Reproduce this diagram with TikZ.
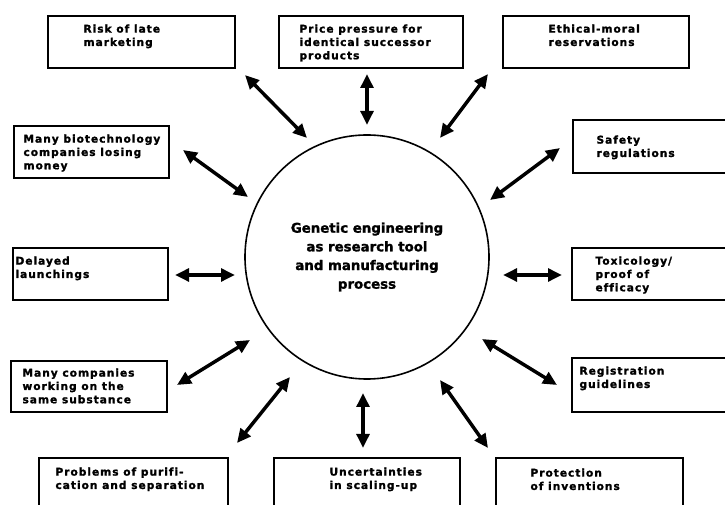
\documentclass[tikz,border=0pt]{standalone}
\usepackage{fontspec}
\setmainfont{DejaVu Sans}
\newfontfamily\heavy[LetterSpace=9, FakeBold=1.5, Ligatures=NoCommon]{DejaVu Sans}
\newfontfamily\hubfont[FakeBold=1.5]{DejaVu Sans}
\usetikzlibrary{arrows.meta}

\tikzset{every picture/.style={line width=0.75pt}}
\tikzset{
  issue/.style 2 args={draw, line width=1.2pt, rectangle, anchor=north west, inner sep=0pt, minimum width=#1, minimum height=#2},
  cue/.style={anchor=north west, inner sep=0pt, align=left, font=\heavy\bfseries\fontsize{8}{10}\selectfont},
  hub/.style={draw, circle, line width=1.2pt, minimum size=183pt, inner sep=0pt, align=center, font=\hubfont\bfseries\fontsize{10}{14}\selectfont},
  link/.style={line width=2.6pt, {Triangle[length=10.5pt,width=9.5pt]}-{Triangle[length=10.5pt,width=9.5pt]}}
}

\begin{document}
\begin{tikzpicture}[x=0.75pt,y=0.75pt,yscale=-1,xscale=1]
\useasboundingbox (0,0) rectangle (725,505);
\clip (0,0) rectangle (725,505);

%Shape: Circle
\node[hub] (core) at (367,257) {Genetic engineering\\as research tool\\and manufacturing\\process};

%Shape: Rectangle (top row)
\node[issue={140.25pt}{39pt}] (risk) at (47,15) {};
\node[issue={138pt}{39pt}] (price) at (278,15) {};
\node[issue={139.5pt}{39pt}] (ethics) at (502,15) {};
%Shape: Rectangle (left column)
\node[issue={116.25pt}{39pt}] (biotech) at (13,125) {};
\node[issue={116.25pt}{39pt}] (delay) at (12,247) {};
\node[issue={117pt}{38.25pt}] (rivals) at (10,360) {};
%Shape: Rectangle (right column)
\node[issue={126pt}{39.75pt}] (safety) at (572,119) {};
\node[issue={126.75pt}{39pt}] (toxic) at (571,247) {};
\node[issue={126.75pt}{40.5pt}] (registr) at (571,357) {};
%Shape: Rectangle (bottom row)
\node[issue={141.75pt}{47.25pt}] (purify) at (38,457) {};
\node[issue={139.5pt}{47.25pt}] (scaleup) at (273,457) {};
\node[issue={140.25pt}{47.25pt}] (patent) at (495,457) {};

% Text Node
\node[cue] (risk-t) at (83,24) {Risk of late\\marketing};
% Text Node
\node[cue] (price-t) at (299,24) {Price pressure for\\identical successor\\products};
% Text Node
\node[cue] (ethics-t) at (548,24) {Ethical-moral\\reservations};
% Text Node
\node[cue] (biotech-t) at (23,134) {Many biotechnology\\companies losing\\money};
% Text Node
\node[cue] (delay-t) at (15,256) {Delayed\\launchings};
% Text Node
\node[cue] (rivals-t) at (22,368) {Many companies\\working on the\\same substance};
% Text Node
\node[cue] (safety-t) at (596,135) {Safety\\regulations};
% Text Node
\node[cue] (toxic-t) at (595,256) {Toxicology/\\proof of\\efficacy};
% Text Node
\node[cue] (registr-t) at (579,366) {Registration\\guidelines};
% Text Node
\node[cue] (purify-t) at (55,467) {Problems of purifi-\\cation and separation};
% Text Node
\node[cue] (scaleup-t) at (329,467) {Uncertainties\\in scaling-up};
% Text Node
\node[cue] (patent-t) at (530,468) {Protection\\of inventions};

%Straight Lines
\coordinate (risk-a) at (245,75);    \coordinate (risk-b) at (307,138);
\coordinate (price-a) at (367,74);   \coordinate (price-b) at (367,125);
\coordinate (ethics-a) at (488,74);  \coordinate (ethics-b) at (440,138);
\coordinate (biotech-a) at (183,150); \coordinate (biotech-b) at (248,197);
\coordinate (safety-a) at (560,148); \coordinate (safety-b) at (490,200);
\coordinate (delay-a) at (175,275);  \coordinate (delay-b) at (235,275);
\coordinate (toxic-a) at (562,275);  \coordinate (toxic-b) at (503,275);
\coordinate (rivals-a) at (177,385); \coordinate (rivals-b) at (250,340);
\coordinate (registr-a) at (557,385); \coordinate (registr-b) at (482,339);
\coordinate (purify-a) at (237,443); \coordinate (purify-b) at (290,377);
\coordinate (scaleup-a) at (363,448); \coordinate (scaleup-b) at (363,393);
\coordinate (patent-a) at (488,448); \coordinate (patent-b) at (440,380);

\draw[link] (risk-a) -- (risk-b);
\draw[link] (price-a) -- (price-b);
\draw[link] (ethics-a) -- (ethics-b);
\draw[link] (biotech-a) -- (biotech-b);
\draw[link] (safety-a) -- (safety-b);
\draw[link] (delay-a) -- (delay-b);
\draw[link] (toxic-a) -- (toxic-b);
\draw[link] (rivals-a) -- (rivals-b);
\draw[link] (registr-a) -- (registr-b);
\draw[link] (purify-a) -- (purify-b);
\draw[link] (scaleup-a) -- (scaleup-b);
\draw[link] (patent-a) -- (patent-b);

\end{tikzpicture}
\end{document}
